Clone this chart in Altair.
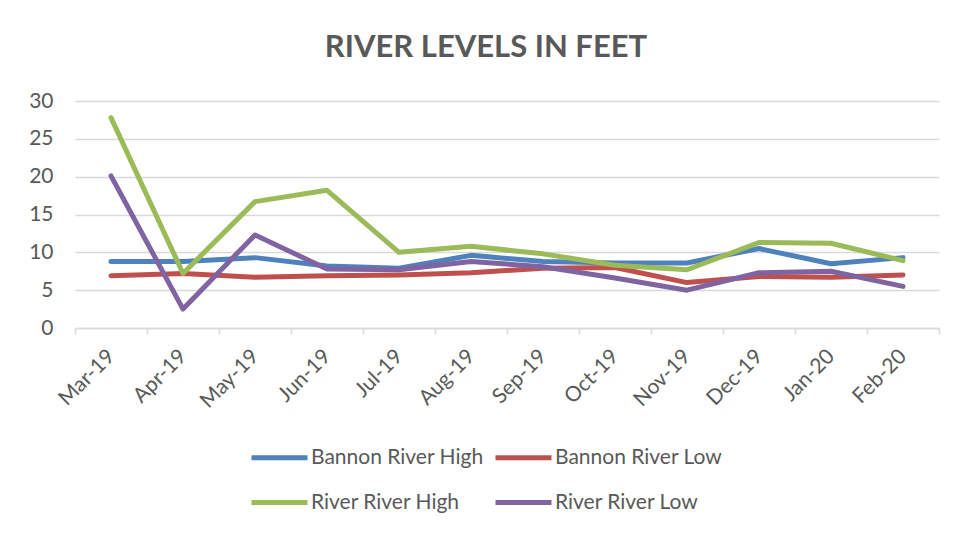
import altair as alt
import pandas as pd

months = ["Mar-19", "Apr-19", "May-19", "Jun-19", "Jul-19", "Aug-19",
          "Sep-19", "Oct-19", "Nov-19", "Dec-19", "Jan-20", "Feb-20"]
series_names = ["Bannon River High", "Bannon River Low", "River River High", "River River Low"]
series_colors = ["#4F81BD", "#C0504D", "#9BBB59", "#8064A2"]

bannon_high = [8.8, 8.8, 9.3, 8.2, 7.9, 9.6, 8.8, 8.6, 8.6, 10.5, 8.5, 9.3]
bannon_low = [6.9, 7.2, 6.7, 6.9, 7.0, 7.3, 7.9, 8.0, 6.0, 6.8, 6.7, 7.0]
river_high = [27.8, 7.2, 16.7, 18.2, 10.0, 10.8, 9.8, 8.3, 7.7, 11.3, 11.2, 8.9]
river_low = [20.1, 2.5, 12.3, 7.8, 7.7, 8.8, 8.1, 6.6, 5.0, 7.3, 7.5, 5.5]

y_ticks = [0, 5, 10, 15, 20, 25, 30]

rows = []
for name, vals in zip(series_names, [bannon_high, bannon_low, river_high, river_low]):
    for m, v in zip(months, vals):
        rows.append({"month": m, "series": name, "value": v})
df = pd.DataFrame(rows)

FONT = "Lato"
TEXT = "#595959"
GRID = "#D9D9D9"

chart = alt.Chart(df).mark_line(
    strokeWidth=5, strokeCap="round", strokeJoin="round"
).encode(
    x=alt.X("month:N", sort=months,
            scale=alt.Scale(type="band", paddingInner=0, paddingOuter=0),
            axis=alt.Axis(title=None, labelAngle=-45, labelAlign="right",
                          labelBaseline="middle", tickBand="extent",
                          labelPadding=19, labelFontSize=21, labelColor=TEXT,
                          labelFont=FONT, tickColor=GRID, tickSize=6, tickWidth=1.5,
                          domainColor=GRID, domainWidth=1.5, grid=False)),
    y=alt.Y("value:Q", scale=alt.Scale(domain=[0, 30]),
            axis=alt.Axis(title=None, values=y_ticks, ticks=False, domain=False,
                          labelPadding=22, labelFontSize=21, labelColor=TEXT,
                          labelFont=FONT, gridColor=GRID, gridWidth=1.5)),
    color=alt.Color("series:N",
                    scale=alt.Scale(domain=series_names, range=series_colors),
                    legend=alt.Legend(title=None, orient="none", legendX=174, legendY=326,
                                      direction="horizontal", columns=2,
                                      symbolType="M-1,0L1,0", symbolSize=3136,
                                      symbolStrokeWidth=5, labelFontSize=21,
                                      labelFont=FONT, labelColor=TEXT, labelOffset=1,
                                      labelLimit=400, columnPadding=1, rowPadding=4)),
).properties(
    width=864, height=227,
    autosize=alt.AutoSizeParams(type="none"),
    padding={"left": 67, "top": 93, "right": 22, "bottom": 190},
    title=alt.TitleParams("RIVER LEVELS IN FEET", font=FONT, fontSize=31,
                          fontWeight="bold", color=TEXT, anchor="middle",
                          dx=-21, offset=26),
).configure_view(stroke=None)

chart.save("out.html", embed_options={"renderer": "svg", "actions": False})
